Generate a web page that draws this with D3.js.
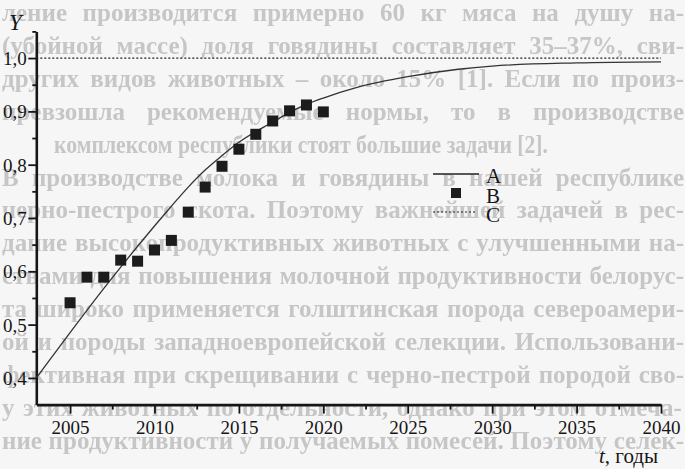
<!DOCTYPE html>
<html>
<head>
<meta charset="utf-8">
<script src="https://cdn.jsdelivr.net/npm/d3@7"></script>
<style>
  html, body { margin: 0; padding: 0; background: #f6f6f6; }
  svg { display: block; }
</style>
</head>
<body>
<svg id="chart" width="685" height="469"></svg>
<script>
// Years on the horizontal axis
const xMajorTicks = [2005, 2010, 2015, 2020, 2025, 2030, 2035, 2040];
const xMinorTicks = [2007.5, 2012.5, 2017.5, 2022.5, 2027.5, 2032.5, 2037.5];
const yMajorTicks = [0.4, 0.5, 0.6, 0.7, 0.8, 0.9, 1.0];
const yMinorTicks = [0.45, 0.55, 0.65, 0.75, 0.85, 0.95, 1.05];

// Series A: smooth trend curve
const trendYears  = [2003, 2005, 2007, 2008, 2009, 2010, 2011, 2012, 2013, 2014, 2015, 2017, 2018, 2019, 2020, 2022, 2025, 2028, 2030, 2035, 2040];
const trendValues = [0.400, 0.485, 0.568, 0.608, 0.647, 0.685, 0.722, 0.758, 0.790, 0.817, 0.842, 0.880, 0.898, 0.913, 0.925, 0.945, 0.965, 0.979, 0.985, 0.991, 0.993];

// Series B: observed values
const obsYears  = [2005, 2006, 2007, 2008, 2009, 2010, 2011, 2012, 2013, 2014, 2015, 2016, 2017, 2018, 2019, 2020];
const obsValues = [0.541, 0.589, 0.589, 0.621, 0.619, 0.640, 0.658, 0.711, 0.758, 0.797, 0.829, 0.857, 0.882, 0.901, 0.912, 0.899];

// Series C: saturation level
const limitYears = [2003, 2040];
const limitValue = 1.0;

const legendLabels = ["A", "B", "C"];

// Printed page text behind the figure
const pageLines = [
  "ление производится примерно 60 кг мяса на душу на-",
  "(убойной массе) доля говядины составляет 35–37%, сви-",
  "других видов животных – около 15% [1]. Если по произ-",
  "превзошла рекомендуемые нормы, то в производстве",
  "комплексом республики стоят большие задачи [2].",
  "В производстве молока и говядины в нашей республике",
  "черно-пестрого скота. Поэтому важнейшей задачей в рес-",
  "публике является создание высокопродуктивных животных с улучшенными на-",
  "следственными качествами для повышения молочной продуктивности белорус-",
  "ского скота широко применяется голштинская порода североамери-",
  "канской и породы западноевропейской селекции. Использовани-",
  "е быков этой породы эффективная при скрещивании с черно-пестрой породой сво-",
  "ими высокими показателями у этих животных по отдельности, однако при этом отмеча-",
  "ется снижение продуктивности у получаемых помесей. Поэтому селек-"
];
const pageLineStart = [2, 2, 2, 2, 54, 2, 2, 2, 2, 2, 2, 2, 2, 2];
const pageLineEnd   = [684, 684, 684, 684, 548, 684, 684, 684, 684, 684, 684, 684, 684, 684];
const pageLineJustify = [true, true, true, true, false, true, true, true, true, true, true, true, true, true];

const serif = "Liberation Serif, DejaVu Serif, serif";
const svg = d3.select("#chart");

const defs = svg.append("defs");
defs.append("filter").attr("id", "soft")
  .append("feGaussianBlur").attr("stdDeviation", 0.55);

// faded page text, justified between its margins; lines running past the
// left margin lose their leading letters
svg.append("g").attr("filter", "url(#soft)")
  .selectAll("text").data(pageLines).join("text")
  .attr("x", (d, i) => pageLineStart[i])
  .attr("y", (d, i) => 21 + i * 32.9)
  .attr("font-family", serif)
  .attr("font-size", 25)
  .attr("font-weight", "bold")
  .attr("fill", "#c6c6c6")
  .each(function (d, i) {
    const el = d3.select(this);
    const room = pageLineEnd[i] - pageLineStart[i];
    let s = d;
    el.text(s);
    if (pageLineJustify[i]) {
      while (this.getComputedTextLength() > room && s.length > 1) {
        s = s.slice(1);
        el.text(s);
      }
      const gaps = (s.match(/ /g) || []).length;
      if (gaps > 0) {
        const extra = room - this.getComputedTextLength();
        el.attr("word-spacing", extra / gaps);
      }
    } else if (this.getComputedTextLength() > room) {
      el.attr("textLength", room).attr("lengthAdjust", "spacingAndGlyphs");
    }
  });

const x = d3.scaleLinear().domain([2003, 2040]).range([36.3, 661]);
const y = d3.scaleLinear().domain([0.35, 1.05]).range([404.6, 31.4]);

const ink = "#161616";

// x axis
svg.append("g").attr("transform", `translate(0,${y(0.35)})`)
  .call(d3.axisBottom(x).tickValues(xMajorTicks).tickFormat(d3.format("d"))
    .tickSize(9).tickSizeOuter(0).tickPadding(7));
svg.append("g").attr("transform", `translate(0,${y(0.35)})`)
  .call(d3.axisBottom(x).tickValues(xMinorTicks).tickFormat("").tickSize(5).tickSizeOuter(0))
  .call(g => g.select(".domain").remove());

// y axis
const yAxis = svg.append("g").attr("transform", `translate(${x(2003)},0)`)
  .call(d3.axisLeft(y).tickValues(yMajorTicks)
    .tickFormat(d => d.toFixed(1).replace(".", ","))
    .tickSize(8).tickSizeOuter(0).tickPadding(1.5));
svg.append("g").attr("transform", `translate(${x(2003)},0)`)
  .call(d3.axisLeft(y).tickValues(yMinorTicks).tickFormat("").tickSize(4).tickSizeOuter(0))
  .call(g => g.select(".domain").remove());

svg.selectAll(".domain").attr("stroke", ink).attr("stroke-width", 2.6);
svg.selectAll(".tick line").attr("stroke", ink).attr("stroke-width", 1.8);
svg.selectAll(".tick text")
  .attr("font-family", serif).attr("font-size", 19).attr("fill", ink);
yAxis.selectAll(".tick text").attr("dy", "0.34em");

// axis titles
svg.append("text")
  .attr("x", 9).attr("y", 30)
  .attr("font-family", serif)
  .attr("font-style", "italic").attr("font-size", 23).attr("fill", ink)
  .text("Y");
const tTitle = svg.append("text")
  .attr("x", 599).attr("y", 463)
  .attr("font-family", serif)
  .attr("font-size", 21).attr("fill", ink);
tTitle.append("tspan").attr("font-style", "italic").text("t");
tTitle.append("tspan").text(", годы");

// C: dotted saturation level
svg.append("line")
  .attr("x1", x(limitYears[0])).attr("x2", x(limitYears[1]))
  .attr("y1", y(limitValue)).attr("y2", y(limitValue))
  .attr("stroke", "#222").attr("stroke-width", 1.2)
  .attr("stroke-dasharray", "2,2");

// A: trend curve
const line = d3.line()
  .x((d, i) => x(trendYears[i]))
  .y(d => y(d))
  .curve(d3.curveMonotoneX);
svg.append("path")
  .datum(trendValues)
  .attr("d", line)
  .attr("fill", "none")
  .attr("stroke", "#333")
  .attr("stroke-width", 1.3);

// B: observed squares
const sq = 11;
svg.append("g").selectAll("rect").data(obsValues).join("rect")
  .attr("x", (d, i) => x(obsYears[i]) - sq / 2)
  .attr("y", d => y(d) - sq / 2)
  .attr("width", sq).attr("height", sq)
  .attr("fill", "#1c1c1c");

// legend
const lg = svg.append("g");
lg.append("line").attr("x1", 433).attr("x2", 479).attr("y1", 174).attr("y2", 174)
  .attr("stroke", "#222").attr("stroke-width", 1.3);
lg.append("rect").attr("x", 451).attr("y", 188).attr("width", 10).attr("height", 10)
  .attr("fill", "#1c1c1c");
lg.append("line").attr("x1", 433).attr("x2", 477).attr("y1", 212).attr("y2", 212)
  .attr("stroke", "#222").attr("stroke-width", 1.2).attr("stroke-dasharray", "2,2");
lg.selectAll("text").data(legendLabels).join("text")
  .attr("x", 486)
  .attr("y", (d, i) => 183 + i * 19.5)
  .attr("font-family", serif)
  .attr("font-size", 21).attr("fill", ink)
  .text(d => d);
</script>
</body>
</html>
